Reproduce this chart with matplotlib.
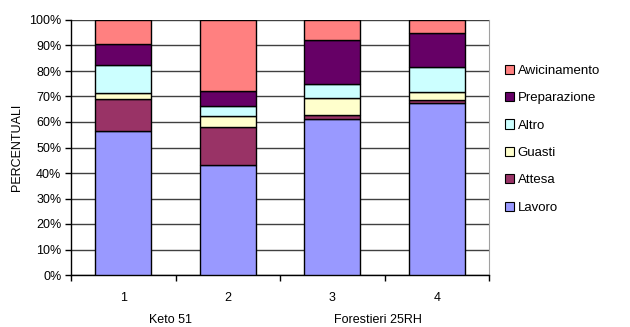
import numpy as np
import matplotlib
matplotlib.use('Agg')
import matplotlib.pyplot as plt
from matplotlib.ticker import FuncFormatter
from matplotlib.patches import Patch

plt.rcParams['font.family'] = ['Liberation Sans', 'DejaVu Sans']

categories = ['1', '2', '3', '4']
groups = ['Keto 51', 'Forestieri 25RH']
series = ['Lavoro', 'Attesa', 'Guasti', 'Altro', 'Preparazione', 'Awicinamento']
lavoro = [56.5, 43.3, 61.2, 67.6]
attesa = [12.6, 14.6, 1.4, 1.0]
guasti = [2.3, 4.3, 6.9, 3.3]
altro = [11.0, 4.1, 5.4, 9.8]
preparazione = [8.3, 6.0, 17.4, 13.3]
awicinamento = [9.3, 27.7, 7.7, 5.0]
colors = ['#9999ff', '#993366', '#ffffcc', '#ccffff', '#660066', '#ff8080']

values = np.array([lavoro, attesa, guasti, altro, preparazione, awicinamento])
values = values / values.sum(axis=0) * 100

fig = plt.figure(figsize=(6.3, 3.27), dpi=100)
ax = fig.add_axes([71/630, 52/327, 418/630, 255/327])

x = np.arange(len(categories)) + 0.5
bottom = np.zeros(len(categories))
for name, vals, col in zip(series, values, colors):
  ax.bar(x, vals, width=0.54, bottom=bottom, color=col, edgecolor='black',
         linewidth=1.0, zorder=3, label=name)
  bottom += vals

ax.set_xlim(0, 4)
ax.set_ylim(0, 100)
ax.set_yticks(np.arange(0, 101, 10))
ax.yaxis.set_major_formatter(FuncFormatter(lambda v, p: '%d%%' % v))
ax.grid(axis='y', color='#404040', linewidth=1.0, zorder=0)

# boundaries get tick marks, bar centres get the labels
ax.set_xticks(np.arange(0, 5))
ax.set_xticklabels([])
ax.set_xticks(x, minor=True)
ax.set_xticklabels(categories, minor=True)
ax.tick_params(axis='x', which='major', direction='out', length=4, width=1,
               color='black')
ax.tick_params(axis='x', which='minor', length=0, pad=12, labelsize=9)
ax.tick_params(axis='y', direction='out', length=4, width=1, labelsize=9,
               pad=3)

for s in ['left', 'bottom']:
  ax.spines[s].set_color('black')
  ax.spines[s].set_linewidth(1.0)
ax.spines['right'].set_color('#a0a0a0')
ax.spines['top'].set_visible(False)
ax.set_ylabel('PERCENTUALI', fontsize=9, labelpad=4)

for gx, g in zip([0.95, 2.94], groups):
  ax.text(gx, -0.175, g, transform=ax.get_xaxis_transform(), ha='center',
          va='center', fontsize=9)

handles = [Patch(facecolor=c, edgecolor='black', linewidth=0.8)
           for c in colors][::-1]
fig.legend(handles, series[::-1], loc='upper left',
           bbox_to_anchor=(498/630, 1 - 58/327), frameon=False, fontsize=9.5,
           handlelength=0.7, handleheight=0.7, handletextpad=0.3,
           labelspacing=1.15, borderpad=0)

fig.savefig('out.png', dpi=100)
